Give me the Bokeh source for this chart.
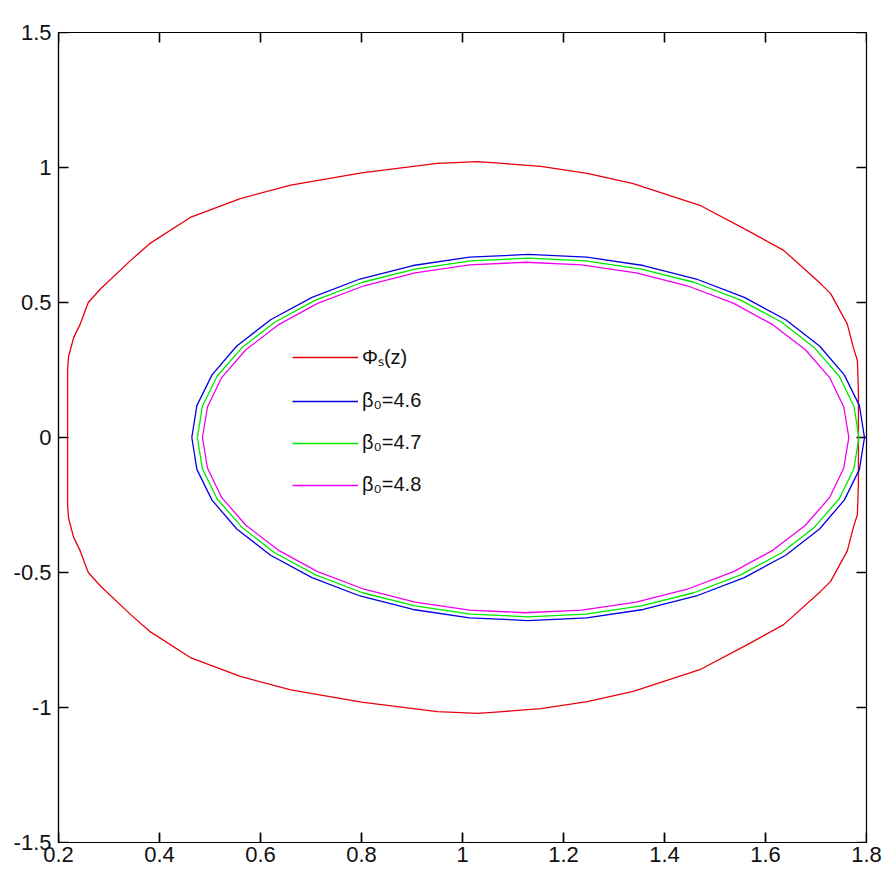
import math
from bokeh.plotting import figure
from bokeh.models import Legend, LegendItem, FixedTicker, Range1d
from bokeh.embed import file_html
from bokeh.resources import INLINE

# ---- data ----
x_ticks = [0.2, 0.4, 0.6, 0.8, 1.0, 1.2, 1.4, 1.6, 1.8]
x_tick_labels = ["0.2", "0.4", "0.6", "0.8", "1", "1.2", "1.4", "1.6", "1.8"]
y_ticks = [-1.5, -1.0, -0.5, 0.0, 0.5, 1.0, 1.5]
y_tick_labels = ["-1.5", "-1", "-0.5", "0", "0.5", "1", "1.5"]

phi_x = [0.218, 0.218, 0.220, 0.230, 0.243, 0.259, 0.283, 0.343, 0.382, 0.461, 0.560, 0.660, 0.800, 0.950,
         1.030, 1.080, 1.155, 1.247, 1.338, 1.470, 1.564, 1.636, 1.709, 1.729, 1.762, 1.774, 1.782, 1.784, 1.784,
         1.784, 1.782, 1.774, 1.762, 1.729, 1.709, 1.636, 1.564, 1.470, 1.338, 1.247, 1.155, 1.080, 1.030,
         0.950, 0.800, 0.660, 0.560, 0.461, 0.382, 0.343, 0.283, 0.259, 0.243, 0.230, 0.220, 0.218, 0.218]
phi_y = [0.0, 0.25, 0.30, 0.37, 0.42, 0.50, 0.55, 0.656, 0.72, 0.815, 0.885, 0.935, 0.98, 1.015,
         1.022, 1.015, 1.004, 0.978, 0.94, 0.86, 0.767, 0.693, 0.57, 0.533, 0.42, 0.333, 0.285, 0.17, 0.0,
         -0.17, -0.285, -0.333, -0.42, -0.533, -0.57, -0.693, -0.767, -0.86, -0.94, -0.978, -1.004, -1.015, -1.022,
         -1.015, -0.98, -0.935, -0.885, -0.815, -0.72, -0.656, -0.55, -0.50, -0.42, -0.37, -0.30, -0.25, 0.0]

b46_x = [1.796, 1.786, 1.756, 1.707, 1.640, 1.558, 1.463, 1.358, 1.246, 1.130, 1.014, 0.902, 0.797, 0.702,
         0.620, 0.553, 0.504, 0.474, 0.464,
         0.474, 0.504, 0.553, 0.620, 0.702, 0.797, 0.902, 1.014, 1.130, 1.246, 1.358, 1.463, 1.558, 1.640,
         1.707, 1.756, 1.786, 1.796]
b46_y = [0.0, 0.118, 0.232, 0.339, 0.436, 0.519, 0.587, 0.637, 0.668, 0.678, 0.668, 0.637, 0.587, 0.519,
         0.436, 0.339, 0.232, 0.118, 0.0,
         -0.118, -0.232, -0.339, -0.436, -0.519, -0.587, -0.637, -0.668, -0.678, -0.668, -0.637, -0.587, -0.519,
         -0.436, -0.339, -0.232, -0.118, 0.0]

b47_x = [1.785, 1.775, 1.746, 1.697, 1.632, 1.551, 1.458, 1.354, 1.244, 1.130, 1.016, 0.906, 0.802, 0.709,
         0.628, 0.563, 0.514, 0.485, 0.475,
         0.485, 0.514, 0.563, 0.628, 0.709, 0.802, 0.906, 1.016, 1.130, 1.244, 1.354, 1.458, 1.551, 1.632,
         1.697, 1.746, 1.775, 1.785]
b47_y = [0.0, 0.116, 0.227, 0.332, 0.427, 0.509, 0.575, 0.624, 0.654, 0.664, 0.654, 0.624, 0.575, 0.509,
         0.427, 0.332, 0.227, 0.116, 0.0,
         -0.116, -0.227, -0.332, -0.427, -0.509, -0.575, -0.624, -0.654, -0.664, -0.654, -0.624, -0.575, -0.509,
         -0.427, -0.332, -0.227, -0.116, 0.0]

b48_x = [1.765, 1.755, 1.727, 1.679, 1.615, 1.537, 1.445, 1.344, 1.236, 1.125, 1.014, 0.906, 0.805, 0.713,
         0.635, 0.571, 0.523, 0.495, 0.485,
         0.495, 0.523, 0.571, 0.635, 0.713, 0.805, 0.906, 1.014, 1.125, 1.236, 1.344, 1.445, 1.537, 1.615,
         1.679, 1.727, 1.755, 1.765]
b48_y = [0.0, 0.113, 0.222, 0.325, 0.417, 0.497, 0.562, 0.610, 0.639, 0.649, 0.639, 0.610, 0.562, 0.497,
         0.417, 0.325, 0.222, 0.113, 0.0,
         -0.113, -0.222, -0.325, -0.417, -0.497, -0.562, -0.610, -0.639, -0.649, -0.639, -0.610, -0.562, -0.497,
         -0.417, -0.325, -0.222, -0.113, 0.0]

series = [
    ("Φₛ(z)", phi_x, phi_y, "#e8000e"),
    ("β₀=4.6", b46_x, b46_y, "#0000e0"),
    ("β₀=4.7", b47_x, b47_y, "#00e800"),
    ("β₀=4.8", b48_x, b48_y, "#ee00ee"),
]

FONT = "Liberation Sans"
X0, X1 = x_ticks[0], x_ticks[-1]
Y0, Y1 = y_ticks[0], y_ticks[-1]

p = figure(width=886, height=876,
           x_range=Range1d(X0, X1), y_range=Range1d(Y0, Y1),
           output_backend="svg", toolbar_location=None,
           min_border_left=58, min_border_right=20, min_border_top=32, min_border_bottom=34)
p.grid.visible = False
p.outline_line_color = "black"
p.outline_line_width = 1.2
p.background_fill_color = "white"
p.border_fill_color = "white"

for ax, ticks, labels in ((p.xaxis[0], x_ticks, x_tick_labels), (p.yaxis[0], y_ticks, y_tick_labels)):
    ax.ticker = FixedTicker(ticks=ticks)
    ax.major_label_overrides = {t: l for t, l in zip(ticks, labels)}
    ax.major_tick_in = 9
    ax.major_tick_out = 0
    ax.minor_tick_in = 0
    ax.minor_tick_out = 0
    ax.major_tick_line_color = "black"
    ax.major_tick_line_width = 1.2
    ax.axis_line_color = "black"
    ax.axis_line_width = 1.2
    ax.major_label_text_font = FONT
    ax.major_label_text_color = "#111111"
    ax.major_label_text_font_size = "22px"
p.xaxis[0].major_label_standoff = 4
p.yaxis[0].major_label_standoff = 7

# inward tick marks on all four sides of the box (MATLAB style)
TICK = 10
for xs, ys, ang in ((x_ticks, [Y0] * len(x_ticks), math.pi / 2),
                    (x_ticks, [Y1] * len(x_ticks), -math.pi / 2),
                    ([X0] * len(y_ticks), y_ticks, 0.0),
                    ([X1] * len(y_ticks), y_ticks, math.pi)):
    p.ray(x=xs, y=ys, length=TICK, length_units="screen", angle=ang,
          line_color="black", line_width=1.6)

items = []
for label, xs, ys, color in series:
    r = p.line(xs, ys, line_color=color, line_width=1.3)
    items.append(LegendItem(label=label, renderers=[r]))

legend = Legend(items=items, location=(234, 346),
                glyph_width=66, glyph_height=20, label_height=20, spacing=19,
                padding=0, margin=0, label_standoff=4,
                border_line_color=None, background_fill_alpha=0,
                label_text_font=FONT, label_text_font_size="20px",
                label_text_color="#111111")
p.add_layout(legend)

open("out.html", "w").write(file_html(p, INLINE))
